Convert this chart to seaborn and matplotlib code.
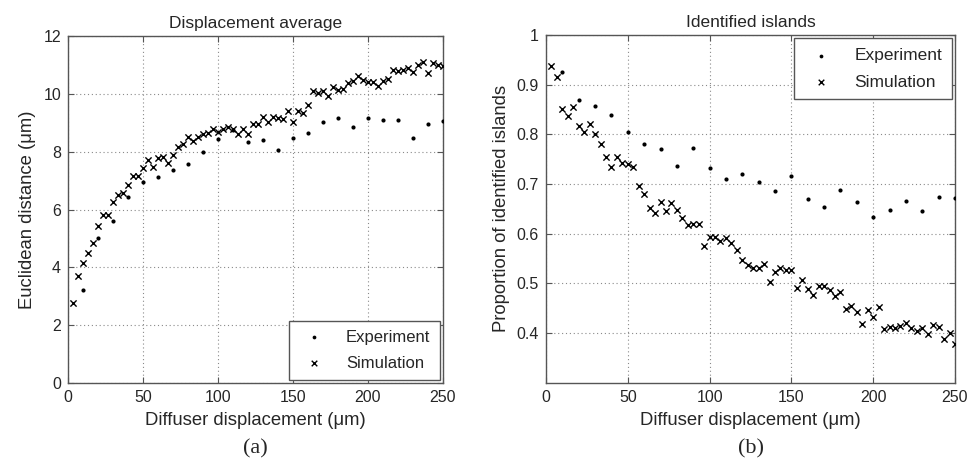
import numpy as np
import pandas as pd
import matplotlib
matplotlib.use("Agg")
import matplotlib.pyplot as plt
import seaborn as sns

# experiment: every 10 um, simulation: 75 steps up to 250 um
exp_x = np.arange(10, 260, 10)
sim_x = np.arange(1, 76) * 250 / 75

exp_dist = [3.20, 5.00, 5.60, 6.43, 6.95, 7.12, 7.35, 7.58, 7.99, 8.43,
            8.75, 8.35, 8.40, 8.05, 8.46, 8.65, 9.03, 9.17, 8.85, 9.16,
            9.08, 9.10, 8.46, 8.96, 9.05]

sim_dist = [2.75, 3.71, 4.15, 4.51, 4.85, 5.42, 5.80, 5.80, 6.25, 6.51,
            6.58, 6.86, 7.16, 7.16, 7.42, 7.70, 7.47, 7.79, 7.82, 7.62,
            7.87, 8.16, 8.25, 8.49, 8.37, 8.49, 8.60, 8.66, 8.80, 8.68,
            8.78, 8.87, 8.78, 8.62, 8.78, 8.60, 8.97, 8.95, 9.20, 9.03,
            9.20, 9.15, 9.13, 9.39, 9.01, 9.41, 9.35, 9.61, 10.10, 10.02,
            10.10, 9.91, 10.22, 10.14, 10.15, 10.39, 10.45, 10.60, 10.49, 10.42,
            10.42, 10.28, 10.45, 10.53, 10.83, 10.80, 10.83, 10.88, 10.74, 11.01,
            11.09, 10.72, 11.05, 10.98, 10.95]

exp_prop = [0.926, 0.869, 0.858, 0.838, 0.804, 0.780, 0.770, 0.737, 0.772, 0.733,
            0.710, 0.721, 0.704, 0.685, 0.716, 0.670, 0.653, 0.687, 0.664, 0.633,
            0.648, 0.665, 0.645, 0.674, 0.672]

sim_prop = [0.938, 0.915, 0.851, 0.836, 0.855, 0.816, 0.805, 0.820, 0.801, 0.780,
            0.755, 0.735, 0.755, 0.743, 0.741, 0.734, 0.697, 0.680, 0.651, 0.641,
            0.663, 0.645, 0.661, 0.648, 0.631, 0.617, 0.620, 0.620, 0.576, 0.594,
            0.594, 0.586, 0.591, 0.582, 0.567, 0.547, 0.537, 0.531, 0.531, 0.539,
            0.502, 0.522, 0.531, 0.527, 0.526, 0.491, 0.507, 0.489, 0.477, 0.494,
            0.494, 0.486, 0.475, 0.482, 0.448, 0.454, 0.443, 0.418, 0.447, 0.433,
            0.452, 0.408, 0.412, 0.411, 0.415, 0.420, 0.411, 0.405, 0.411, 0.399,
            0.417, 0.412, 0.389, 0.401, 0.378]

sns.set_style("white")
plt.rcParams["font.family"] = ["Liberation Sans", "DejaVu Sans"]

fig = plt.figure(figsize=(9.71, 4.70), dpi=100)
ax1 = fig.add_axes([0.0700, 0.1851, 0.3862, 0.7383])
ax2 = fig.add_axes([0.5623, 0.1857, 0.4212, 0.7398])

spine_col = "#555555"


def draw(ax, ey, sy):
    sns.scatterplot(x=exp_x, y=ey, ax=ax, color="black", marker="o", s=9,
                    linewidth=0, label="Experiment", zorder=3)
    sns.scatterplot(x=sim_x, y=sy, ax=ax, color="black", marker="x", s=20,
                    linewidth=1.0, label="Simulation", zorder=3)
    ax.set_xlim(0, 250)
    ax.set_xticks([0, 50, 100, 150, 200, 250])
    ax.grid(True, linestyle=(0, (1, 2.5)), color="#8a8a8a", linewidth=0.8)
    for sp in ax.spines.values():
        sp.set_color(spine_col)
        sp.set_linewidth(1.0)
    ax.tick_params(direction="in", length=4, width=0.8, color=spine_col,
                   labelsize=11.5, bottom=True, left=True, top=True, right=True,
                   pad=5)
    ax.set_xlabel("Diffuser displacement (μm)", fontsize=13.3, labelpad=5)


draw(ax1, exp_dist, sim_dist)
ax1.set_ylim(0, 12)
ax1.set_yticks([0, 2, 4, 6, 8, 10, 12])
ax1.set_ylabel("Euclidean distance (μm)", fontsize=13.3, labelpad=5)
ax1.set_title("Displacement average", fontsize=12.5, pad=6)
ax1.legend(loc="lower right", fontsize=12, frameon=True, fancybox=False,
           framealpha=1, edgecolor=spine_col, borderaxespad=0.2,
           handletextpad=0.9, borderpad=0.55, labelspacing=0.65,
           markerscale=0.9)

draw(ax2, exp_prop, sim_prop)
ax2.set_ylim(0.3, 1.0)
ax2.set_yticks([0.4, 0.5, 0.6, 0.7, 0.8, 0.9, 1.0])
ax2.set_yticklabels(["0.4", "0.5", "0.6", "0.7", "0.8", "0.9", "1"])
ax2.set_ylabel("Proportion of identified islands", fontsize=13.3, labelpad=5)
ax2.set_title("Identified islands", fontsize=12.5, pad=6)
ax2.legend(loc="upper right", fontsize=12.5, frameon=True, fancybox=False,
           framealpha=1, edgecolor=spine_col, borderaxespad=0.2,
           handletextpad=0.9, borderpad=0.55, labelspacing=0.65,
           markerscale=0.9)

fig.text(0.263, 0.045, "(a)", ha="center", va="center", fontsize=16,
         family=["Liberation Serif", "DejaVu Serif"])
fig.text(0.773, 0.045, "(b)", ha="center", va="center", fontsize=16,
         family=["Liberation Serif", "DejaVu Serif"])

fig.savefig("out.png", dpi=100)
